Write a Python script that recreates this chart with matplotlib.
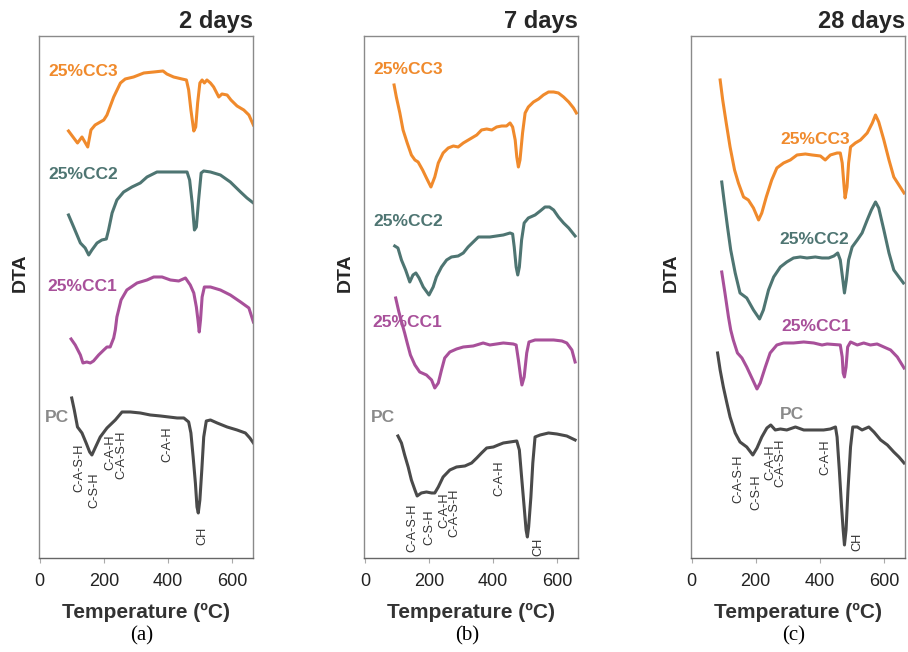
import matplotlib
matplotlib.use("Agg")
import matplotlib.pyplot as plt

plt.rcParams['font.family'] = ['Liberation Sans', 'DejaVu Sans']

# ---- 2 days ----
t2_cc3 = [90, 118, 132, 150, 160, 173, 200, 210, 231, 252, 267, 293, 325, 356, 385, 397, 418, 444, 458, 465,
          472, 481, 487, 493, 500, 507, 514, 522, 533, 543, 559, 569, 585, 597, 616, 637, 653, 667]
d2_cc3 = [427, 415, 421, 411, 428, 433, 438, 443, 461, 475, 479, 481, 485, 486, 487, 484, 481, 479, 478, 468,
          448, 427, 431, 455, 475, 478, 475, 478, 475, 471, 461, 464, 463, 458, 452, 448, 443, 433]
t2_cc2 = [90, 106, 127, 142, 153, 163, 179, 194, 208, 215, 226, 241, 262, 288, 314, 335, 366, 397, 423, 444,
          460, 468, 476, 483, 489, 496, 504, 512, 533, 564, 595, 627, 647, 667]
d2_cc2 = [343, 331, 315, 310, 303, 308, 315, 318, 319, 328, 345, 358, 366, 371, 375, 381, 386, 386, 386, 386,
          386, 378, 355, 328, 331, 358, 385, 387, 386, 383, 376, 366, 360, 355]
t2_cc1 = [98, 111, 127, 135, 147, 158, 168, 184, 200, 210, 220, 231, 236, 241, 254, 272, 304, 335, 356, 382,
          408, 434, 455, 470, 481, 489, 494, 498, 502, 507, 514, 533, 564, 595, 627, 653, 663, 667]
d2_cc1 = [219, 213, 203, 195, 196, 195, 197, 203, 208, 211, 211, 220, 228, 241, 258, 268, 275, 278, 281, 281,
          278, 277, 280, 273, 265, 251, 238, 226, 238, 261, 271, 271, 268, 263, 256, 250, 240, 236]
t2_pc = [100, 108, 118, 132, 145, 156, 163, 173, 189, 210, 236, 257, 283, 314, 345, 377, 403, 429, 450, 465,
         472, 479, 486, 491, 495, 500, 506, 512, 520, 533, 554, 585, 616, 642, 656, 667]
d2_pc = [160, 148, 131, 125, 115, 106, 103, 110, 121, 130, 138, 146, 146, 145, 143, 142, 141, 140, 140, 136,
         125, 101, 75, 51, 45, 58, 88, 121, 137, 138, 135, 131, 128, 125, 120, 115]

# ---- 7 days ----
t7_cc3 = [91, 98, 109, 119, 132, 145, 156, 166, 180, 192, 206, 218, 229, 244, 260, 276, 291, 307, 328, 349,
          364, 380, 396, 411, 427, 442, 453, 461, 469, 474, 479, 484, 492, 500, 510, 526, 542, 557, 573, 589,
          604, 620, 636, 651, 660]
d7_cc3 = [473, 461, 445, 428, 415, 403, 398, 396, 388, 380, 371, 381, 395, 405, 410, 412, 411, 415, 419, 423,
          428, 429, 428, 431, 432, 432, 435, 431, 418, 401, 391, 398, 425, 445, 451, 456, 459, 463, 466, 466,
          465, 461, 456, 450, 445]
t7_cc2 = [93, 103, 114, 127, 140, 150, 159, 169, 182, 200, 213, 223, 239, 255, 270, 291, 307, 322, 338, 354,
          369, 390, 411, 432, 453, 461, 466, 472, 477, 482, 489, 497, 510, 531, 547, 562, 576, 589, 604, 620,
          636, 656]
d7_cc2 = [312, 310, 298, 288, 276, 283, 285, 280, 271, 263, 271, 281, 291, 298, 301, 302, 305, 311, 316, 321,
          321, 321, 322, 323, 325, 324, 311, 291, 283, 291, 318, 335, 340, 343, 347, 351, 351, 348, 341, 335,
          330, 322]
t7_cc1 = [96, 106, 117, 124, 132, 142, 156, 171, 192, 208, 218, 229, 239, 249, 265, 286, 307, 338, 369, 390,
          411, 432, 463, 472, 479, 486, 490, 497, 505, 512, 531, 557, 589, 615, 630, 646, 656]
d7_cc1 = [260, 246, 233, 225, 215, 203, 193, 186, 183, 178, 170, 175, 188, 200, 206, 209, 211, 212, 215, 213,
          214, 215, 214, 213, 198, 181, 173, 181, 205, 216, 218, 218, 218, 217, 215, 208, 196]
t7_pc = [103, 114, 124, 135, 145, 156, 163, 176, 192, 208, 218, 229, 244, 265, 286, 312, 333, 349, 364, 380,
         401, 416, 432, 453, 474, 482, 489, 497, 503, 507, 511, 518, 524, 531, 547, 573, 599, 630, 656]
d7_pc = [122, 115, 103, 91, 78, 68, 62, 65, 66, 65, 65, 71, 81, 88, 91, 92, 95, 100, 105, 110,
         111, 113, 115, 116, 117, 108, 81, 51, 28, 21, 31, 61, 95, 121, 123, 125, 124, 122, 118]

# ---- 28 days ----
t28_cc3 = [89, 97, 108, 120, 134, 146, 162, 177, 193, 209, 219, 233, 250, 266, 287, 308, 329, 355, 376, 402,
           417, 433, 454, 464, 470, 475, 479, 485, 490, 496, 511, 527, 548, 564, 574, 584, 600, 616, 631, 647, 663]
d28_cc3 = [478, 458, 435, 411, 388, 375, 361, 358, 350, 338, 345, 361, 378, 390, 395, 398, 403, 404, 403, 402,
           398, 403, 405, 405, 395, 375, 360, 371, 395, 411, 415, 418, 425, 435, 443, 436, 418, 398, 381, 373, 365]
t28_cc2 = [94, 101, 112, 122, 136, 151, 172, 193, 212, 224, 240, 256, 277, 297, 318, 339, 360, 386, 407, 428,
           444, 456, 464, 472, 477, 483, 490, 501, 517, 532, 548, 561, 574, 584, 600, 616, 631, 647, 661]
d28_cc2 = [376, 358, 331, 308, 285, 265, 260, 248, 239, 248, 268, 281, 291, 296, 300, 301, 300, 301, 300, 300,
           302, 305, 298, 278, 265, 278, 298, 311, 318, 325, 338, 348, 356, 350, 328, 305, 288, 281, 275]
t28_cc1 = [94, 104, 115, 122, 130, 143, 157, 172, 188, 204, 214, 230, 245, 266, 287, 318, 350, 381, 407, 423,
           464, 470, 473, 477, 482, 487, 496, 517, 537, 558, 579, 600, 621, 642, 663]
d28_cc1 = [286, 265, 241, 228, 218, 205, 200, 191, 180, 169, 175, 191, 205, 213, 215, 215, 216, 215, 213, 214,
           213, 201, 185, 181, 191, 211, 216, 213, 215, 213, 214, 211, 208, 201, 190]
t28_pc = [81, 89, 99, 110, 120, 136, 151, 172, 191, 204, 219, 235, 247, 261, 277, 297, 324, 350, 381, 412,
          433, 449, 454, 461, 468, 473, 477, 482, 488, 496, 503, 517, 532, 553, 569, 590, 611, 631, 647, 663]
d28_pc = [205, 188, 171, 155, 141, 125, 116, 111, 103, 110, 121, 130, 133, 128, 129, 128, 131, 128, 128, 128,
          129, 131, 121, 88, 51, 28, 13, 28, 68, 111, 131, 131, 128, 131, 126, 118, 113, 106, 101, 95]

series_names = ["25%CC3", "25%CC2", "25%CC1", "PC"]
phases = ["C-A-S-H", "C-S-H", "C-A-H", "C-A-S-H", "C-A-H", "CH"]

# where the phase names and series names sit (temperature, DTA)
phase_t = [[123, 170, 222, 254, 397, 507], [147, 200, 247, 280, 421, 541], [146, 203, 245, 278, 417, 518]]
phase_d = [[90, 68, 106, 103, 114, 22], [30, 31, 48, 45, 80, 11], [79, 66, 96, 95, 101, 16]]
name_t = [[27, 27, 23, 17], [25, 25, 23, 17], [276, 274, 281, 276]]
name_d = [[486, 383, 271, 140], [488, 336, 235, 140], [418, 318, 231, 143]]

titles = ["2 days", "7 days", "28 days"]
panel_tags = ["(a)", "(b)", "(c)"]

line_colors = ["#F08A2C", "#4E7572", "#A8509A", "#4A4A4A"]
name_colors = ["#F08A2C", "#4E7572", "#A8509A", "#8A8A8A"]

curves = [
    [(t2_cc3, d2_cc3), (t2_cc2, d2_cc2), (t2_cc1, d2_cc1), (t2_pc, d2_pc)],
    [(t7_cc3, d7_cc3), (t7_cc2, d7_cc2), (t7_cc1, d7_cc1), (t7_pc, d7_pc)],
    [(t28_cc3, d28_cc3), (t28_cc2, d28_cc2), (t28_cc1, d28_cc1), (t28_pc, d28_pc)],
]

fig = plt.figure(figsize=(9.08, 6.52), dpi=100)
lefts = [0.043, 0.4012, 0.761]

for i in range(3):
    ax = fig.add_axes([lefts[i], 0.1442, 0.2357, 0.8006])
    for j in range(4):
        t, d = curves[i][j]
        ax.plot(t, d, color=line_colors[j], lw=2.2, solid_joinstyle="round")
        ax.text(name_t[i][j], name_d[i][j], series_names[j], color=name_colors[j],
                fontsize=12.5, fontweight="bold", ha="left", va="center")
    for k in range(6):
        ax.text(phase_t[i][k], phase_d[i][k], phases[k], rotation=90, fontsize=9.2,
                color="#333333", ha="center", va="center")

    ax.set_xlim(-2, 666)
    ax.set_ylim(0, 522)
    ax.set_xticks([0, 200, 400, 600])
    ax.set_yticks([])
    ax.tick_params(axis="x", direction="out", length=3.5, width=0.8, color="#aaaaaa",
                   labelsize=13, labelcolor="#222222", pad=7)
    for s in ax.spines.values():
        s.set_color("#8a8a8a")
        s.set_linewidth(1.0)
    ax.spines["bottom"].set_color("#666666")

    ax.text(1.0, 1.028, titles[i], transform=ax.transAxes, ha="right", va="center",
            fontsize=17, fontweight="bold", color="#262626")
    ax.text(-0.09, 0.546, "DTA", transform=ax.transAxes, rotation=90, ha="center", va="center",
            fontsize=14, fontweight="bold", color="#262626")
    ax.text(0.5, -0.104, "Temperature (ºC)", transform=ax.transAxes, ha="center", va="center",
            fontsize=15, fontweight="bold", color="#333333")
    ax.text(0.48, -0.149, panel_tags[i], transform=ax.transAxes, ha="center", va="center",
            fontsize=15, family="Liberation Serif", color="black")

fig.savefig("out.png", dpi=100)
plt.close(fig)
